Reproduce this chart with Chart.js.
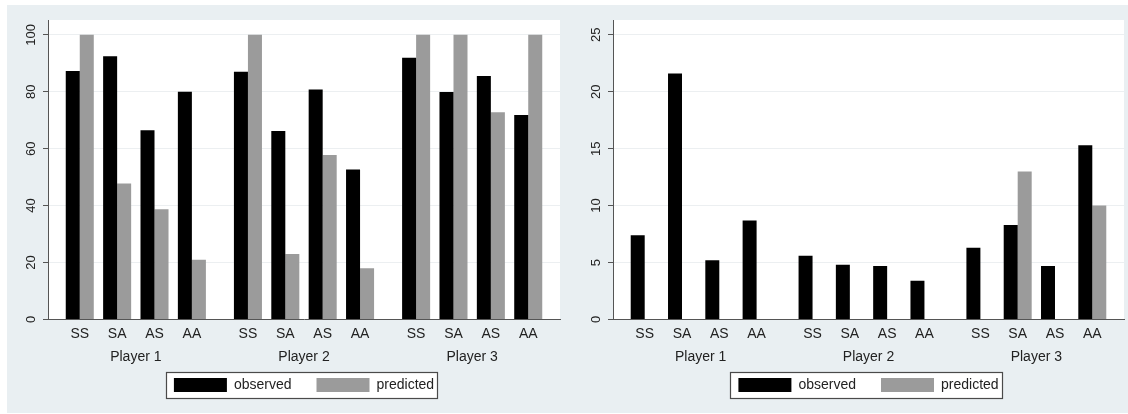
<!DOCTYPE html>
<html>
<head>
<meta charset="utf-8">
<script src="https://cdn.jsdelivr.net/npm/chart.js@4/dist/chart.umd.min.js"></script>
<style>
  html, body { margin: 0; padding: 0; background: #fff; width: 1128px; height: 414px; overflow: hidden; }
  #frame { position: absolute; left: 7px; top: 5px; width: 1121px; height: 408px; background: #e9eff2; }
  canvas { position: absolute; top: 5px; }
  #left { left: 7px; }
  #right { left: 563px; }
</style>
</head>
<body>
<div id="frame"></div>
<canvas id="left" width="556" height="408"></canvas>
<canvas id="right" width="565" height="408"></canvas>
<script>
// Strategy profiles within each player, and the players themselves
const categories = ['SS', 'SA', 'AS', 'AA'];
const players = ['Player 1', 'Player 2', 'Player 3'];
const seriesNames = ['observed', 'predicted'];

// Left panel: percentages, 4 profiles for each of the 3 players
const observedLeft  = [87.3, 92.5, 66.5, 80.0,  87.0, 66.2, 80.8, 52.7,  91.9, 79.9, 85.5, 71.8];
const predictedLeft = [100,  47.8, 38.7, 21.0,  100,  23.0, 57.8, 18.0,  100,  100,  72.8, 100];
const leftTicks = [0, 20, 40, 60, 80, 100];

// Right panel
const observedRight  = [7.4, 21.6, 5.2, 8.7,  5.6, 4.8, 4.7, 3.4,  6.3, 8.3, 4.7, 15.3];
const predictedRight = [0,   0,    0,   0,    0,   0,   0,   0,    0,   13,  0,   10];
const rightTicks = [0, 5, 10, 15, 20, 25];

// Horizontal layout: profiles one unit apart, players separated by an extra half unit
const GROUP_STEP = 4.5;
const X_MIN = -0.85;
const X_MAX = (players.length - 1) * GROUP_STEP + (categories.length - 1) + 0.85;
const xPos = i => Math.floor(i / categories.length) * GROUP_STEP + (i % categories.length);
const catPositions = players.flatMap((p, g) => categories.map((c, k) => g * GROUP_STEP + k));
const playerPositions = players.map((p, g) => g * GROUP_STEP + (categories.length - 1) / 2);

const FONT_FAMILY = "'Liberation Sans', Arial, sans-serif";
Chart.defaults.font.family = FONT_FAMILY;
Chart.defaults.color = '#222';

// White plot region plus a framed legend
const panelPlugin = {
  id: 'panel',
  beforeDraw(chart) {
    const { ctx, chartArea: a, legend } = chart;
    ctx.save();
    ctx.fillStyle = '#ffffff';
    ctx.fillRect(a.left, a.top, a.right - a.left, a.bottom - a.top);
    const hb = legend && legend.legendHitBoxes;
    if (hb && hb.length) {
      const l = Math.round(Math.min(...hb.map(h => h.left)) - 8) + 0.5;
      const r = Math.round(Math.max(...hb.map(h => h.left + h.width)) + 3) + 0.5;
      const t = Math.round(Math.min(...hb.map(h => h.top)) - 6) + 0.5;
      const b = Math.round(Math.max(...hb.map(h => h.top + h.height)) + 6) + 0.5;
      ctx.fillStyle = '#ffffff';
      ctx.fillRect(l, t, r - l, b - t);
      ctx.strokeStyle = '#4a4a4a';
      ctx.lineWidth = 1.2;
      ctx.strokeRect(l, t, r - l, b - t);
    }
    ctx.restore();
  },
  // Player names centred under each group of profiles
  afterDraw(chart) {
    const { ctx } = chart;
    const xs = chart.scales.x;
    ctx.save();
    ctx.fillStyle = '#222';
    ctx.font = '14px ' + FONT_FAMILY;
    ctx.textAlign = 'center';
    ctx.textBaseline = 'middle';
    players.forEach((name, g) => {
      ctx.fillText(name, xs.getPixelForValue(playerPositions[g]), xs.top + 37.5);
    });
    ctx.restore();
  }
};

function makeChart(id, observed, predicted, yMax, yTicks, yWidth, yPad, rightPad) {
  const toPoints = arr => arr.map((v, i) => ({ x: xPos(i), y: v }));
  return new Chart(document.getElementById(id), {
    type: 'bar',
    data: {
      datasets: [
        { label: seriesNames[0], data: toPoints(observed), backgroundColor: '#000000', borderWidth: 0 },
        { label: seriesNames[1], data: toPoints(predicted), backgroundColor: '#9b9b9b', borderWidth: 0 }
      ]
    },
    options: {
      responsive: false,
      devicePixelRatio: 1,
      animation: false,
      events: [],
      categoryPercentage: 0.75,
      barPercentage: 1.0,
      layout: { padding: { top: 15, bottom: 11, left: 0, right: rightPad } },
      plugins: {
        tooltip: { enabled: false },
        legend: {
          position: 'bottom',
          fullSize: false,
          labels: {
            boxWidth: 53,
            boxHeight: 14,
            padding: 25,
            color: '#222',
            font: { size: 14 }
          }
        }
      },
      scales: {
        x: {
          type: 'linear',
          position: 'bottom',
          min: X_MIN,
          max: X_MAX,
          offset: false,
          grid: { display: false, drawTicks: false, offset: false },
          border: { display: true, color: '#555', width: 1 },
          afterBuildTicks: s => { s.ticks = catPositions.map(v => ({ value: v })); },
          afterFit: s => { s.height = 33.5; },
          ticks: {
            autoSkip: false,
            maxRotation: 0,
            padding: 6,
            color: '#222',
            font: { size: 14 },
            callback: (v, i) => categories[i % categories.length]
          }
        },
        y: {
          type: 'linear',
          min: 0,
          max: yMax,
          afterBuildTicks: s => { s.ticks = yTicks.map(v => ({ value: v })); },
          afterFit: s => { s.width = yWidth; },
          grid: { color: '#eceff1', lineWidth: 1, tickColor: '#555', tickLength: 5, drawTicks: true },
          border: { display: true, color: '#555', width: 1 },
          ticks: {
            minRotation: 90,
            maxRotation: 90,
            crossAlign: 'center',
            padding: yPad,
            color: '#222',
            font: { size: 13 }
          }
        }
      }
    },
    plugins: [panelPlugin]
  });
}

makeChart('left', observedLeft, predictedLeft, 105.2, leftTicks, 41, 0.5, 3);
makeChart('right', observedRight, predictedRight, 26.3, rightTicks, 50, 4.8, 4);
</script>
</body>
</html>
